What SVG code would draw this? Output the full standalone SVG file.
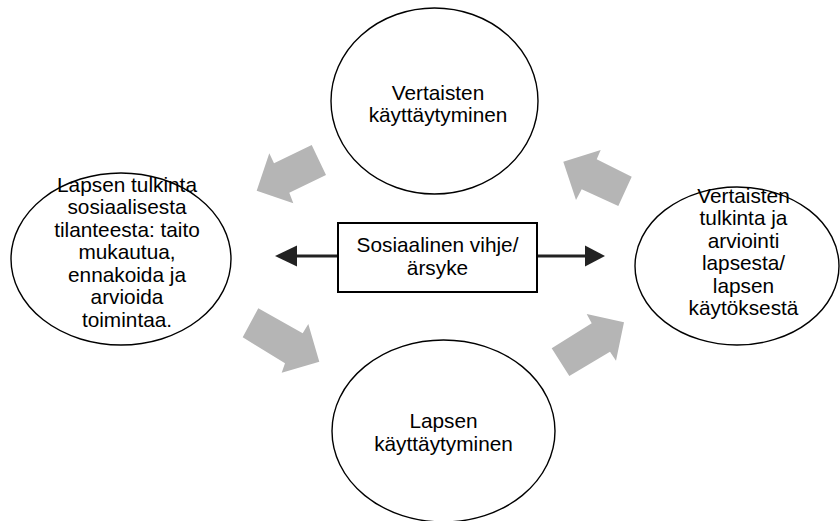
<svg xmlns="http://www.w3.org/2000/svg" width="840" height="521" viewBox="0 0 840 521">
<style>
.bg{fill:#ffffff}
.node{fill:#ffffff;stroke:#000000;stroke-width:1.4}
.box{fill:#ffffff;stroke:#000000;stroke-width:2}
.t{font-family:"Liberation Sans",Arial,sans-serif;font-size:20.8px;fill:#000000;text-anchor:middle}
.block{fill:#b5b5b5;stroke:none}
.link{stroke:#222222;stroke-width:3.2;fill:none}
.head{fill:#222222}
</style>
<rect class="bg" x="0" y="0" width="840" height="521"/>
<g id="connectors">
  <polygon class="block" points="311.7,145 326,175 289.3,192.7 293.3,203.3 256.7,190.7 269.3,153.3 274,163.3"/>
  <polygon class="block" points="563.3,161.7 600.7,150 596.7,159.3 631.7,176.7 618.3,206 581.7,189.3 576,200"/>
  <polygon class="block" points="258.3,308.3 302.7,333.3 308.3,324 319.3,361.7 281.7,372.7 285,363.3 242.7,337.3"/>
  <polygon class="block" points="551.7,348.3 591.7,323.3 586.7,314 624,322.3 616,360.7 610,351.7 569.3,376"/>
  <line class="link" x1="338" y1="256" x2="295" y2="256"/>
  <polygon class="head" points="275,256 297,245.5 297,266.5"/>
  <line class="link" x1="537" y1="256" x2="587" y2="256"/>
  <polygon class="head" points="605,256 585,245.5 585,266.5"/>
</g>
<g id="top">
  <ellipse class="node" cx="434.5" cy="101" rx="103.5" ry="93"/>
  <text class="t" x="438" y="99.5">Vertaisten</text>
  <text class="t" x="438" y="122">käyttäytyminen</text>
</g>
<g id="left">
  <ellipse class="node" cx="121" cy="259" rx="110" ry="86"/>
  <text class="t" x="127" y="191.5">Lapsen tulkinta</text>
  <text class="t" x="127" y="214">sosiaalisesta</text>
  <text class="t" x="127" y="236.5">tilanteesta: taito</text>
  <text class="t" x="127" y="259">mukautua,</text>
  <text class="t" x="127" y="281.5">ennakoida ja</text>
  <text class="t" x="127" y="304">arvioida</text>
  <text class="t" x="127" y="326.5">toimintaa.</text>
</g>
<g id="right">
  <ellipse class="node" cx="737" cy="266" rx="102" ry="79"/>
  <text class="t" x="743.5" y="203">Vertaisten</text>
  <text class="t" x="743.5" y="225.4">tulkinta ja</text>
  <text class="t" x="743.5" y="247.8">arviointi</text>
  <text class="t" x="743.5" y="270.2">lapsesta/</text>
  <text class="t" x="743.5" y="292.6">lapsen</text>
  <text class="t" x="743.5" y="315">käytöksestä</text>
</g>
<g id="bottom">
  <ellipse class="node" cx="443.5" cy="431" rx="111.5" ry="91"/>
  <text class="t" x="443.5" y="428">Lapsen</text>
  <text class="t" x="443.5" y="450.5">käyttäytyminen</text>
</g>
<g id="center">
  <rect class="box" x="338" y="223" width="199" height="69"/>
  <text class="t" x="437.5" y="252">Sosiaalinen vihje/</text>
  <text class="t" x="437.5" y="274.5">ärsyke</text>
</g>
</svg>
